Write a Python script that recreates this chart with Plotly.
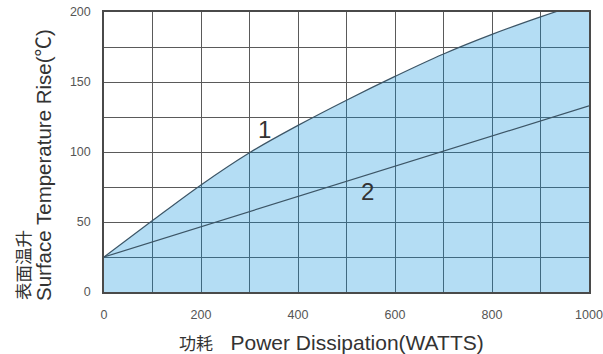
import plotly.graph_objects as go

# Power dissipation (W) and surface temperature rise (°C)
power = [0, 100, 200, 300, 400, 500, 600, 700, 800, 900, 1000]
rise_curve1 = [25, 51, 76.5, 99.5, 119, 137, 154, 170, 184, 196.5, 208]
rise_curve2 = [25, 35.8, 46.6, 57.4, 68.2, 79, 89.8, 100.6, 111.4, 122.2, 133]

x_ticks = [0, 200, 400, 600, 800, 1000]
y_ticks = [0, 50, 100, 150, 200]

W, H = 603, 354
ML, MR, MT, MB = 104, 14, 12, 62
PW, PH = W - ML - MR, H - MT - MB

FONT = "Liberation Sans, Arial, Noto Sans CJK SC, sans-serif"
CJK = "Noto Sans CJK SC, sans-serif"
LINE = "#3c5566"
GRID = "#5a5a5a"

fig = go.Figure()
fig.add_trace(go.Scatter(
    x=power, y=rise_curve1, mode="lines",
    line=dict(color=LINE, width=1.2, shape="spline", smoothing=1.0),
    fill="tozeroy", fillcolor="rgba(5,142,218,0.3)",
    hoverinfo="skip", showlegend=False,
))
fig.add_trace(go.Scatter(
    x=power, y=rise_curve2, mode="lines",
    line=dict(color=LINE, width=1.2),
    hoverinfo="skip", showlegend=False,
))

def px_x(p):
    return (p - ML) / PW

def px_y(p):
    return (H - MB - p) / PH

axis_common = dict(
    showgrid=True, gridcolor=GRID, gridwidth=1.3,
    ticks="outside", tickcolor="rgba(0,0,0,0)",
    tickfont=dict(size=12.5, color="#555"),
    showline=True, mirror=True, linecolor="#4a4a4a", linewidth=1.5,
    zeroline=False, fixedrange=True, automargin=False,
)

fig.update_layout(
    width=W, height=H,
    margin=dict(l=ML, r=MR, t=MT, b=MB, pad=0, autoexpand=False),
    paper_bgcolor="white", plot_bgcolor="white",
    font=dict(family=FONT, color="#444"),
    xaxis=dict(range=[0, 1000], tickvals=x_ticks, ticklen=10, **axis_common),
    yaxis=dict(range=[0, 200], tickvals=y_ticks, ticklen=9, **axis_common),
)

# Minor grid: every 100 W and every 25 °C
fig.update_xaxes(minor=dict(dtick=100, showgrid=True, gridcolor=GRID, gridwidth=1.3))
fig.update_yaxes(minor=dict(dtick=25, showgrid=True, gridcolor=GRID, gridwidth=1.3))

# Curve labels
fig.add_annotation(x=330, y=116, text="1", showarrow=False,
                   font=dict(size=24, color="#333", family=FONT))
fig.add_annotation(x=543, y=72, text="2", showarrow=False,
                   font=dict(size=24, color="#333", family=FONT))

# X axis title
fig.add_annotation(
    xref="paper", yref="paper",
    x=px_x(331), y=px_y(342), xanchor="center", yanchor="middle",
    text=(f"<span style='font-family:{CJK};font-size:17px'>功耗</span>"
          "&nbsp;&nbsp;&nbsp;Power Dissipation(WATTS)"),
    showarrow=False,
    font=dict(size=21, color="#333", family=FONT),
)

# Y axis title: Chinese line and English line, both starting at the bottom
fig.add_annotation(
    xref="paper", yref="paper",
    x=px_x(22), y=px_y(302), xanchor="center", yanchor="bottom",
    text="表面温升", showarrow=False, textangle=-90,
    font=dict(size=17.5, color="#333", family=CJK),
)
fig.add_annotation(
    xref="paper", yref="paper",
    x=px_x(43), y=px_y(303), xanchor="center", yanchor="bottom",
    text="Surface Temperature Rise(℃)", showarrow=False, textangle=-90,
    font=dict(size=20.5, color="#333", family=FONT),
)

fig.write_html("out.html")
